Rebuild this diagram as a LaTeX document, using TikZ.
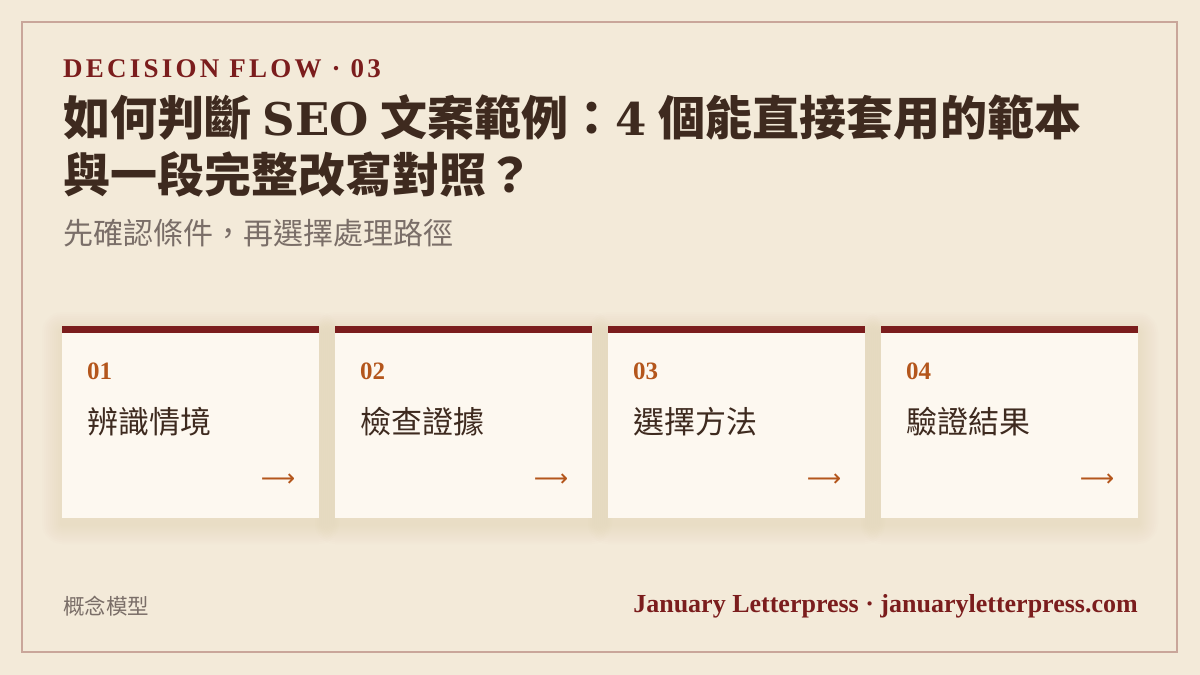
\documentclass[tikz,border=0pt]{standalone}
\usepackage{fontspec}
\setmainfont{Liberation Serif}
\newfontfamily\cjk{Noto Sans CJK TC}
\newfontfamily\kickfont[LetterSpace=12]{Liberation Serif}
\newfontfamily\widefont{DejaVu Serif}
\newfontfamily\arrowfont{DejaVu Sans}
\usetikzlibrary{positioning,backgrounds}

\definecolor{pagetone}{HTML}{F3EAD9}
\definecolor{cardtone}{HTML}{FDF8F0}
\definecolor{rimline}{HTML}{C9A69A}
\definecolor{deepred}{HTML}{7B1D1D}
\definecolor{rust}{HTML}{B4561C}
\definecolor{inkbrown}{HTML}{3E2A1F}
\definecolor{softgray}{HTML}{7A6E68}
\definecolor{shadetone}{HTML}{B8A684}

\begin{document}
\begin{tikzpicture}[
    x=1pt, y=-1pt,
    node distance=16pt,
    frame/.style={draw=rimline, line width=1.5pt},
    kicker/.style={anchor=base west, inner sep=0, text=deepred, font=\kickfont\bfseries\fontsize{27}{27}\selectfont},
    headline/.style={anchor=west, inner sep=0, text=inkbrown, font=\bfseries\fontsize{47}{47}\selectfont},
    subline/.style={anchor=west, inner sep=0, text=softgray, font=\cjk\fontsize{30}{30}\selectfont},
    card/.style={rectangle, fill=cardtone, minimum width=257pt, minimum height=192pt, inner sep=0, outer sep=0},
    stepnum/.style={anchor=west, inner sep=0, text=rust, font=\bfseries\fontsize{25}{25}\selectfont},
    steplabel/.style={anchor=west, inner sep=0, text=inkbrown, font=\cjk\fontsize{31}{31}\selectfont},
    nextmark/.style={inner sep=0, text=rust, font=\arrowfont\fontsize{24}{24}\selectfont},
    footnote/.style={anchor=west, inner sep=0, text=softgray, font=\cjk\fontsize{21.5}{21.5}\selectfont},
    brand/.style={anchor=base east, inner sep=0, text=deepred, font=\bfseries\fontsize{26}{26}\selectfont}
]

% Page
\begin{pgfonlayer}{background}
\fill[pagetone] (0,0) rectangle (1200,675);
\end{pgfonlayer}
\useasboundingbox (0,0) rectangle (1200,675);
\draw[frame] (22,22) rectangle (1177,652);

% Header
\node[kicker] (kick) at (63,77) {DECISION FLOW · 03};
\node[headline] (head1) at (63,118) {{\cjk 如何判斷} {\widefont\fontsize{45}{45}\selectfont SEO} {\cjk 文案範例：}{\widefont\fontsize{45}{45}\selectfont 4} {\cjk 個能直接套用的範本}};
\node[headline, font=\cjk\bfseries\fontsize{47}{47}\selectfont] (head2) at (63,174) {與一段完整改寫對照？};
\node[subline] (sub) at (63,233) {先確認條件，再選擇處理路徑};

% Cards
\node[card, anchor=north west] (c1) at (62,326) {};
\node[card, right=of c1] (c2) {};
\node[card, right=of c2] (c3) {};
\node[card, right=of c3] (c4) {};

\foreach \c in {c1,c2,c3,c4}{
  \fill[deepred] (\c.north west) rectangle ([yshift=-7pt]\c.north east);
}

\begin{pgfonlayer}{background}
\foreach \c in {c1,c2,c3,c4}{
  \foreach \s in {2,4,...,20}{
    \fill[shadetone, opacity=0.016, rounded corners=\s pt]
      ([xshift=-\s pt, yshift=\s pt-6pt]\c.north west) rectangle ([xshift=\s pt, yshift=-\s pt-6pt]\c.south east);
  }
}
\end{pgfonlayer}

% Card contents
\node[stepnum] (n1) at ([xshift=25pt, yshift=-45pt]c1.north west) {01};
\node[stepnum] (n2) at ([xshift=25pt, yshift=-45pt]c2.north west) {02};
\node[stepnum] (n3) at ([xshift=25pt, yshift=-45pt]c3.north west) {03};
\node[stepnum] (n4) at ([xshift=25pt, yshift=-45pt]c4.north west) {04};

\node[steplabel] (s1) at ([xshift=25pt, yshift=-96pt]c1.north west) {辨識情境};
\node[steplabel] (s2) at ([xshift=25pt, yshift=-96pt]c2.north west) {檢查證據};
\node[steplabel] (s3) at ([xshift=25pt, yshift=-96pt]c3.north west) {選擇方法};
\node[steplabel] (s4) at ([xshift=25pt, yshift=-96pt]c4.north west) {驗證結果};

\node[nextmark] (m1) at ([xshift=-41pt, yshift=-154pt]c1.north east) {⟶};
\node[nextmark] (m2) at ([xshift=-41pt, yshift=-154pt]c2.north east) {⟶};
\node[nextmark] (m3) at ([xshift=-41pt, yshift=-154pt]c3.north east) {⟶};
\node[nextmark] (m4) at ([xshift=-41pt, yshift=-154pt]c4.north east) {⟶};

% Footer
\node[footnote] (model) at (63,606) {概念模型};
\node[brand] (site) at (1138,612) {January Letterpress · januaryletterpress.com};

\end{tikzpicture}
\end{document}
